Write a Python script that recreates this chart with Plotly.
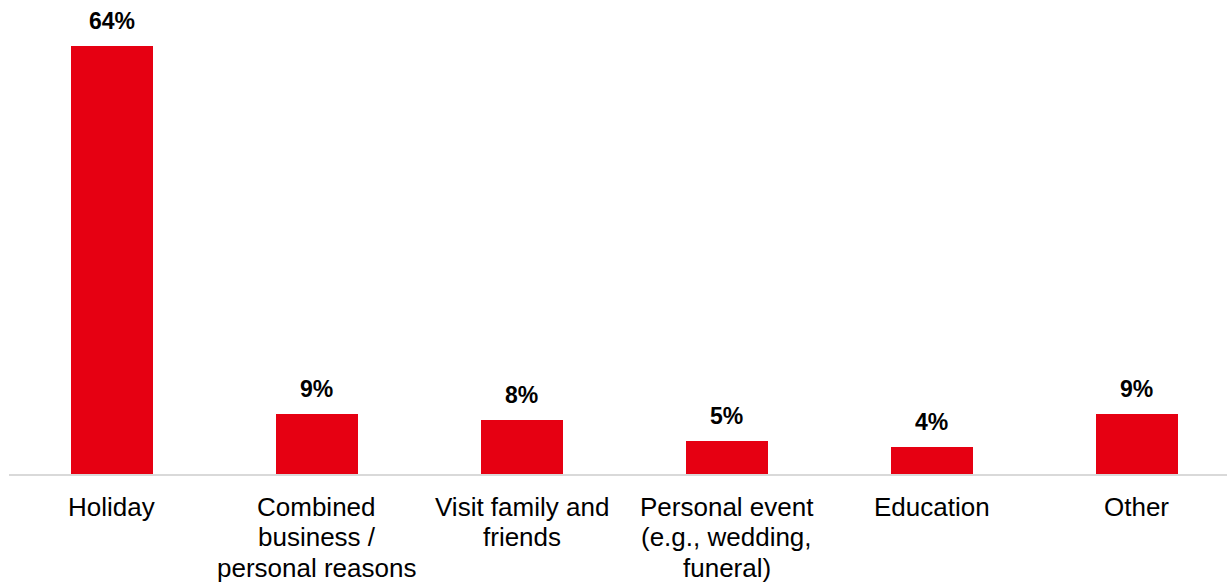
import plotly.graph_objects as go

categories = [
    "Holiday",
    "Combined<br>business /<br>personal reasons",
    "Visit family and<br>friends",
    "Personal event<br>(e.g., wedding,<br>funeral)",
    "Education",
    "Other",
]
shares = [64, 9, 8, 5, 4, 9]
value_labels = [f"{v}%" for v in shares]

RED = "#E60012"
FONT = "Liberation Sans, Arial, sans-serif"

fig = go.Figure(
    go.Bar(
        x=list(range(len(categories))),
        y=shares,
        width=0.4,
        marker=dict(color=RED, line=dict(width=0)),
        hoverinfo="skip",
    )
)

# value labels above each bar
for i, (v, lab) in enumerate(zip(shares, value_labels)):
    fig.add_annotation(
        x=i, y=v, text=f"<b>{lab}</b>", showarrow=False,
        yanchor="bottom", yshift=10,
        font=dict(family=FONT, size=23, color="#000000"),
    )

# category labels, one text line per row with tight line spacing
LINE_GAP = 30.5
for i, cat in enumerate(categories):
    for j, line in enumerate(cat.split("<br>")):
        fig.add_annotation(
            x=i, xref="x", y=0, yref="paper", text=line, showarrow=False,
            yanchor="middle", yshift=-(32.5 + j * LINE_GAP),
            font=dict(family=FONT, size=26, color="#000000"),
        )

fig.update_layout(
    width=1227, height=582,
    margin=dict(l=9, r=0, t=0, b=108),
    paper_bgcolor="white", plot_bgcolor="white",
    showlegend=False,
    font=dict(family=FONT, size=26, color="#000000"),
    bargap=0,
)
fig.update_xaxes(
    range=[-0.5, 5.44],
    tickmode="array",
    tickvals=list(range(len(categories))),
    showticklabels=False,
    automargin=False,
    showline=True, linecolor="#D9D9D9", linewidth=2,
    showgrid=False, zeroline=False, ticks="",
)
fig.update_yaxes(
    range=[0, 70.8],
    visible=False, showgrid=False, zeroline=False, automargin=False,
)

fig.write_html("out.html")
